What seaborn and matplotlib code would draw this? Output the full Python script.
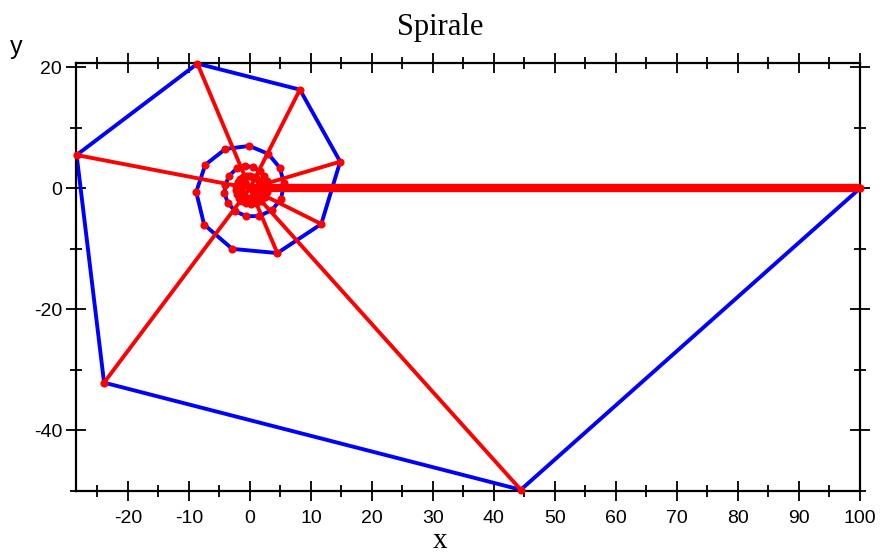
import matplotlib
matplotlib.use("Agg")
import matplotlib.pyplot as plt
import seaborn as sns
import pandas as pd
from matplotlib.ticker import MultipleLocator

# spiral vertices read (and estimated near the dense centre) from the reference
xs = [100, 44.4, -23.9, -28.4, -8.6, 8.2, 14.8, 11.7, 4.5, -2.9, -7.5, -8.8, -7.3, -4.0,
      -0.1, 3.0, 4.9, 5.6, 5.1, 3.6, 1.5, -0.6, -2.4, -3.6, -4.2, -4.0, -3.4, -2.1,
      -0.8, 0.5, 1.6, 2.3, 2.8, 3.0, 2.8, 2.4, 1.8, 1.0, 0.2, -0.6, -1.3, -1.8,
      -2.1, -2.3, -2.2, -1.97, -1.58, -1.08, -0.52, 0.05, 0.59, 1.05, 1.42, 1.68,
      1.80, 1.80, 1.67, 1.44, 1.13, 0.76, 0.35, -0.06, -0.45, -0.79, -1.08, -1.30,
      -1.43, -1.48, -1.44, -1.33, -1.15]
ys = [0, -49.8, -32.1, 5.5, 20.6, 16.3, 4.4, -5.9, -10.7, -10.0, -6.0, -0.6, 3.9, 6.5,
      7.0, 5.7, 3.4, 0.8, -1.8, -3.6, -4.6, -4.6, -3.8, -2.4, -0.8, 0.6, 2.1, 3.3,
      3.7, 3.5, 2.9, 2.1, 1.2, 0.3, -0.6, -1.4, -2.1, -2.5, -2.6, -2.5, -2.1, -1.6,
      -1.0, -0.3, 0.4, 0.98, 1.46, 1.81, 1.99, 2.02, 1.89, 1.63, 1.26, 0.83,
      0.35, -0.13, -0.58, -0.97, -1.28, -1.50, -1.61, -1.63, -1.54, -1.36, -1.11, -0.81,
      -0.46, -0.11, 0.24, 0.56, 0.84]
center = (0.0, 0.0)
n_radii = 9  # radii drawn from the centre to the first vertices

title = "Spirale"
xticks_major = list(range(-20, 101, 10))
yticks_major = [-40, -20, 0, 20]

sns.set_style("white")
plt.rcParams['font.family'] = ['Liberation Sans', 'DejaVu Sans']
plt.rcParams['axes.unicode_minus'] = False
plt.rcParams['text.color'] = 'black'

fig = plt.figure(figsize=(8.8, 5.53), dpi=100)
ax = fig.add_axes([76/880, 1-491/553, (860-76)/880, (491-63)/553])

spiral = pd.DataFrame({"x": xs, "y": ys, "order": range(len(xs))})
rows = []
for i, (x, y) in enumerate(zip(xs[:n_radii], ys[:n_radii])):
    rows.append({"x": center[0], "y": center[1], "u": i})
    rows.append({"x": x, "y": y, "u": i})
radii = pd.DataFrame(rows)

sns.lineplot(data=spiral, x="x", y="y", sort=False, estimator=None, color="#0000ff",
             lw=2.8, ax=ax, zorder=2)
sns.lineplot(data=radii[radii.u > 0], x="x", y="y", units="u", estimator=None, sort=False,
             color="#ff0000", lw=2.8, ax=ax, zorder=3)
sns.lineplot(data=radii[radii.u == 0], x="x", y="y", units="u", estimator=None, sort=False,
             color="#ff0000", lw=6, ax=ax, zorder=3)
sns.scatterplot(data=spiral, x="x", y="y", color="#ff0000", s=34, linewidth=0, ax=ax, zorder=4,
                clip_on=False)

ax.set_xlim(min(xs) - 0.1, max(xs))
ax.set_ylim(min(ys) - 0.2, max(ys) + 0.1)
ax.set_xticks(xticks_major)
ax.set_yticks(yticks_major)
ax.xaxis.set_minor_locator(MultipleLocator(5))
ax.yaxis.set_minor_locator(MultipleLocator(10))
ax.tick_params(which="both", bottom=True, left=True, top=True, right=True)
ax.tick_params(which="major", direction="inout", length=14, width=1.3,
               labelsize=14, pad=3, color="black", labelcolor="black")
ax.tick_params(axis="x", which="major", pad=7)
ax.tick_params(which="minor", direction="inout", length=8, width=1.3, color="black")
for s in ax.spines.values():
    s.set_linewidth(1.6)
    s.set_color("black")
ax.set_xlabel("")
ax.set_ylabel("")
ax.grid(False)

fig.text(440/880, 1-27/553, title, ha="center", va="center", fontsize=22, color="black",
         family=["Liberation Serif", "DejaVu Serif"])
fig.text(440/880, 1-541/553, "x", ha="center", va="center", fontsize=21, color="black",
         family=["Liberation Serif", "DejaVu Serif"])
fig.text(16/880, 1-47/553, "y", ha="center", va="center", fontsize=18, color="black")

fig.savefig("out.png", dpi=100)
